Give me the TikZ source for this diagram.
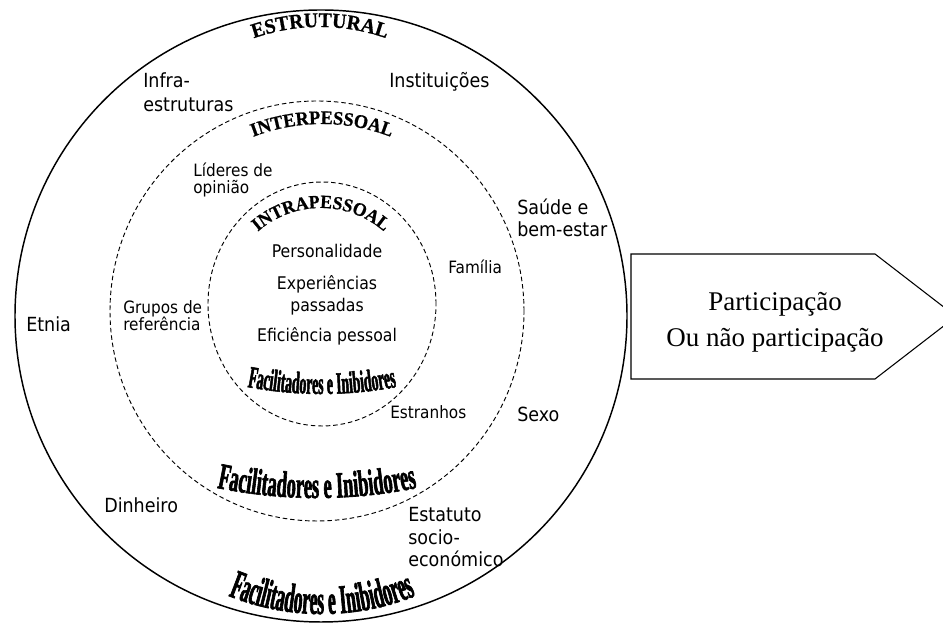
\documentclass[tikz,border=0pt]{standalone}
\usepackage{fontspec}
\setmainfont{Liberation Serif}
\newfontfamily\lab{DejaVu Sans}[FakeStretch=0.9]
\newfontfamily\waT{Liberation Serif}[FakeStretch=0.95, FakeBold=0.8]
\newfontfamily\waA{Liberation Serif}[FakeStretch=0.445, FakeBold=1.6]
\newfontfamily\waB{Liberation Serif}[FakeStretch=0.5, FakeBold=1.6]
\newfontfamily\waC{Liberation Serif}[FakeStretch=0.43, FakeBold=1.6]
\usetikzlibrary{decorations.text}
\tikzset{
  outerlbl/.style={font=\lab\fontsize{14.6pt}{16pt}\selectfont, inner sep=0pt, anchor=base west},
  midlbl/.style={font=\lab\fontsize{12.75pt}{14pt}\selectfont, inner sep=0pt, anchor=base west},
  innlbl/.style={font=\lab\fontsize{13.1pt}{15pt}\selectfont, inner sep=0pt, anchor=base},
  ring/.style={line width=1.1pt},
  dashring/.style={line width=0.7pt, dash pattern=on 3.4pt off 2.2pt},
  arrowbox/.style={line width=0.8pt},
  boxlbl/.style={font=\fontsize{20.25pt}{22pt}\selectfont, inner sep=0pt, anchor=base},
  curved/.style={decorate, decoration={text along path, text align=center, text={#1}}}
}
\begin{document}
\begin{tikzpicture}[x=0.75pt,y=0.75pt]
\clip (0,0) rectangle (943,623);
\useasboundingbox (0,0) rectangle (943,623);
\fill[white] (0,0) rectangle (943,623);

% circles
\coordinate (cO) at (321,307);
\coordinate (cM) at (317,312);
\coordinate (cI) at (322,319);
\draw[ring] (cO) circle[radius=306];
\draw[dashring] (cM) ellipse[x radius=207, y radius=210];
\draw[dashring] (cI) ellipse[x radius=114, y radius=122];

% arrow pentagon
\coordinate (p1) at (631,369);
\coordinate (p2) at (875,369);
\coordinate (p3) at (956,306.5);
\coordinate (p4) at (875,244);
\coordinate (p5) at (631,244);
\draw[arrowbox] (p1) -- (p2) -- (p3) -- (p4) -- (p5) -- cycle;
\node[boxlbl] (part1) at (775,312) {Participação};
\node[boxlbl] (part2) at (775,276) {Ou não participação};

% curved titles
\coordinate (aE) at (320,396);
\path[curved={|\waT\bfseries\fontsize{15.6pt}{17pt}\selectfont|ESTRUTURAL}] ([shift={(120:200)}]aE) arc[start angle=120, end angle=60, radius=200];
\coordinate (aP) at (322,309);
\path[curved={|\waT\bfseries\fontsize{14.4pt}{16pt}\selectfont|INTERPESSOAL}] ([shift={(125:190)}]aP) arc[start angle=125, end angle=55, radius=190];
\coordinate (aR) at (321,319);
\path[curved={|\waT\bfseries\fontsize{14pt}{16pt}\selectfont|INTRAPESSOAL}] ([shift={(150:96)}]aR) arc[start angle=150, end angle=30, radius=96];

\coordinate (f1) at (322,629);
\path[curved={|\waA\bfseries\fontsize{23.25pt}{25pt}\selectfont|Facilitadores e Inibidores}] ([shift={(255:400)}]f1) arc[start angle=255, end angle=285, radius=400];
\coordinate (f2) at (317,625);
\path[curved={|\waB\bfseries\fontsize{27.75pt}{30pt}\selectfont|Facilitadores e Inibidores}] ([shift={(256:500)}]f2) arc[start angle=256, end angle=284, radius=500];
\coordinate (f3) at (322,259);
\path[curved={|\waC\bfseries\fontsize{30.75pt}{33pt}\selectfont|Facilitadores e Inibidores}] ([shift={(240:250)}]f3) arc[start angle=240, end angle=300, radius=250];

% outer ring labels
\node[outerlbl] (infra1) at (143,535) {Infra-};
\node[outerlbl] (infra2) at (143,511) {estruturas};
\node[outerlbl] (inst) at (389,535) {Instituições};
\node[outerlbl] (saude1) at (517,408) {Saúde e};
\node[outerlbl] (saude2) at (517,386) {bem-estar};
\node[outerlbl] (etnia) at (26,291) {Etnia};
\node[outerlbl] (sexo) at (517,201) {Sexo};
\node[outerlbl] (dinheiro) at (104,110.5) {Dinheiro};
\node[outerlbl] (est1) at (408,101) {Estatuto};
\node[outerlbl] (est2) at (408,78) {socio-};
\node[outerlbl] (est3) at (408,56) {económico};

% middle ring labels
\node[midlbl] (lid1) at (193,446) {Líderes de};
\node[midlbl] (lid2) at (193,429) {opinião};
\node[midlbl] (gru1) at (123,309) {Grupos de};
\node[midlbl] (gru2) at (123,292.5) {referência};
\node[midlbl] (fam) at (448,349) {Família};
\node[midlbl] (estr) at (390,204) {Estranhos};

% inner labels
\node[innlbl] (pers) at (327,365) {Personalidade};
\node[innlbl] (exp1) at (327,333) {Experiências};
\node[innlbl] (exp2) at (327,311) {passadas};
\node[innlbl] (efic) at (327,281) {Eficiência pessoal};
\end{tikzpicture}
\end{document}
